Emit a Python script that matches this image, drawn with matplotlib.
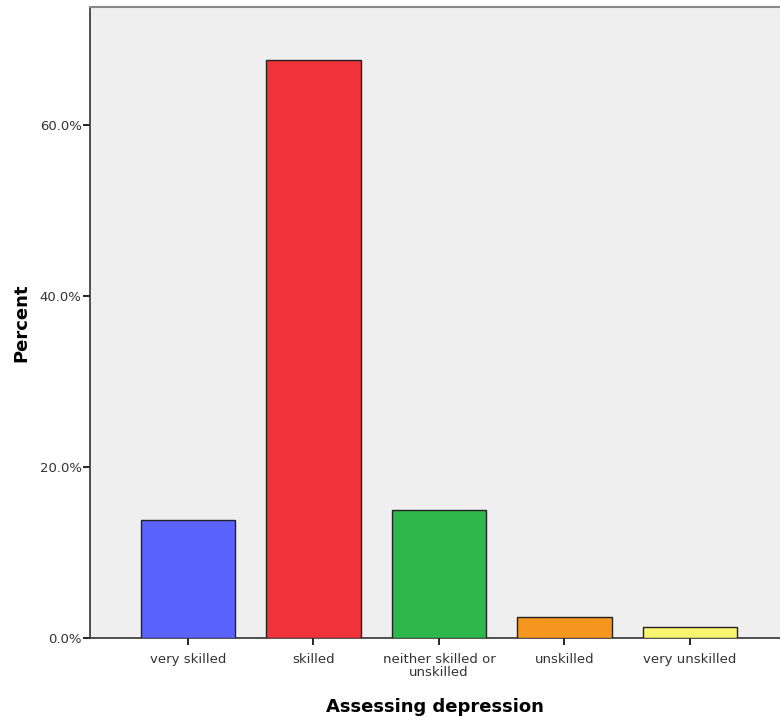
import matplotlib
matplotlib.use("Agg")
import matplotlib.pyplot as plt
from matplotlib.ticker import FuncFormatter

categories = ["very skilled", "skilled", "neither skilled or\nunskilled", "unskilled", "very unskilled"]
percent = [13.8, 67.6, 15.0, 2.5, 1.3]
colors = ["#5b63ff", "#f0323a", "#2eb84b", "#f5961e", "#f8f573"]
yticks = [0, 20, 40, 60]

fig = plt.figure(figsize=(7.8, 7.24), dpi=100)
ax = fig.add_axes([90/780, 86/724, 1 - 90/780, (638-7)/724])
ax.set_facecolor("#efefef")
x = list(range(len(categories)))
ax.bar(x, percent, width=0.75, color=colors, edgecolor="#222222", linewidth=1.0, zorder=3)
ax.set_xlim(-0.78, 4.717)
ax.set_ylim(0, 73.8)
ax.set_yticks(yticks)
ax.yaxis.set_major_formatter(FuncFormatter(lambda v, p: f"{v:.1f}%"))
ax.set_xticks(x)
ax.set_xticklabels(categories, fontsize=9.5, color="#333333", linespacing=0.95)
ax.tick_params(axis="y", labelsize=9.5, labelcolor="#333333", length=5, width=1.2, direction="out", pad=1)
ax.tick_params(axis="x", length=5, width=1.2, direction="out", pad=6)
for s in ["left", "bottom"]:
    ax.spines[s].set_color("#333333")
    ax.spines[s].set_linewidth(1.2)
ax.spines["top"].set_color("#888888")
ax.spines["top"].set_linewidth(1.5)
ax.spines["right"].set_visible(False)
ax.set_ylabel("Percent", fontsize=13, fontweight="bold", labelpad=7)
ax.set_xlabel("Assessing depression", fontsize=13, fontweight="bold", labelpad=14)
fig.savefig("out.png", dpi=100)
